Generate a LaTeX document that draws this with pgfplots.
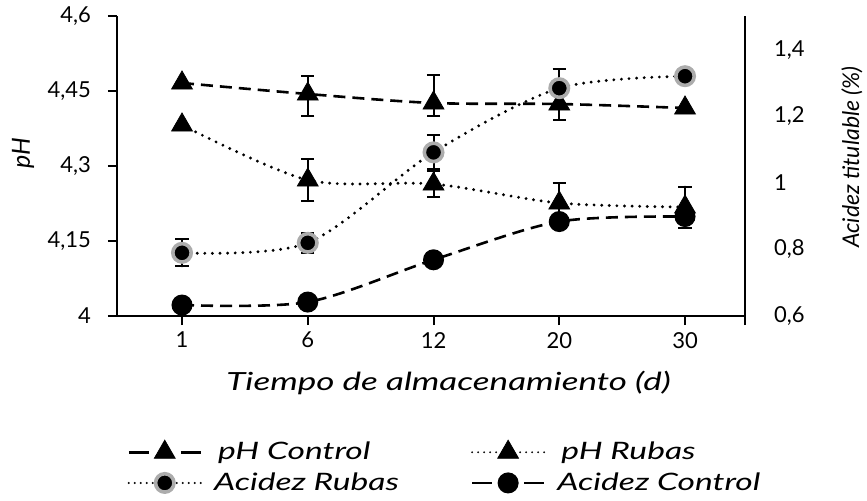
\documentclass[border=0pt]{standalone}
\usepackage{pgfplots}
\pgfplotsset{compat=1.18}
\usepackage{pgfplotstable}
\usepackage{fontspec}
\setmainfont{Lato}
\newfontfamily\wideit{Lato}[FakeStretch=1.4]

\pgfplotstableread{
x y ep em
0 4.466 0 0
1 4.444 0.036 0.044
2 4.426 0.056 0.026
3 4.424 0.032 0.032
4 4.416 0 0
}\phcontrol

\pgfplotstableread{
x y e
0 4.382 0
1 4.272 0.042
2 4.264 0.026
3 4.226 0.040
4 4.218 0.041
}\phrubas

\pgfplotstableread{
x y e
0 0.790 0.041
1 0.820 0.030
2 1.092 0.051
3 1.285 0.057
4 1.321 0
}\acrubas

\pgfplotstableread{
x y
0 0.633
1 0.642
2 0.769
3 0.884
4 0.899
}\accontrol

\pgfplotsset{
  base/.style={
    scale only axis, width=314pt, height=150pt,
    xmin=-0.517, xmax=4.477,
    axis line style={line width=1pt},
    tick style={line width=1pt, black},
    major tick length=4.5pt,
    tick align=outside,
    /pgf/number format/assume math mode=true,
    /pgf/number format/use comma,
    ticklabel style={font=\fontsize{11}{13}\selectfont},
  },
  ebar/.style={error bars/.cd, y dir=both, y explicit,
    error bar style={line width=1pt, solid, black},
    error mark options={rotate=90, mark size=3.3pt, line width=1pt, solid, black},
    /pgfplots/.cd},
  dashedline/.style={line width=1.3pt, dash pattern=on 6pt off 3.5pt},
  dottedline/.style={line width=1.6pt, line cap=round, dash pattern=on 0pt off 3.8pt},
  tri/.style={mark=triangle*, mark size=6pt, mark options={solid, fill=black, draw=black, line width=0.4pt}},
  dot/.style={mark=*, mark size=4.6pt, mark options={solid, fill=black, draw=black}},
  ringdot/.style={mark=*, mark size=4.6pt, mark options={solid, fill=black, draw=gray!65, line width=1.8pt}},
  % legend pictures: short solid bits for the dashed series, a dotted run for the others
  legdash/.style={legend image code/.code={
    \draw[##1, solid, mark=none] (0pt,0pt) -- (10pt,0pt);
    \draw[##1, solid, mark=none] (26pt,0pt) -- (36pt,0pt);
    \draw[##1, draw=none] plot[mark repeat=1] coordinates {(18pt,0pt)};}},
  legdot/.style={legend image code/.code={
    \draw[##1, mark=none, line width=1.1pt, dash pattern=on 0pt off 3pt] (0pt,0pt) -- (36pt,0pt);
    \draw[##1, draw=none] plot[mark repeat=1] coordinates {(18pt,0pt)};}},
}

\begin{document}
\begin{tikzpicture}
\useasboundingbox (-58.5pt,-92pt) rectangle (375pt,158pt);

\begin{axis}[
  base,
  axis y line*=left, axis x line*=bottom,
  ymin=4, ymax=4.6,
  ytick={4,4.15,4.3,4.45,4.6},
  xtick={0,1,2,3,4}, xticklabels={1,6,12,20,30},
  extra x ticks={4.477}, extra x tick labels={},
  xlabel={\wideit\itshape Tiempo de almacenamiento (d)},
  xlabel style={at={([yshift=-33.5pt]rel axis cs:0.528,0)}, anchor=center,
    font=\fontsize{12.5}{15}\selectfont},
  ylabel={\itshape pH},
  ylabel style={at={([xshift=-47pt]rel axis cs:0,0.543)}, anchor=center, rotate=0,
    font=\fontsize{12.5}{15}\selectfont},
  yticklabel style={xshift=-5pt},
]
\addplot[black, dashedline, tri, smooth, ebar]
  table[x=x, y=y, y error plus=ep, y error minus=em] {\phcontrol};
\addplot[black, dottedline, tri, smooth, ebar]
  table[x=x, y=y, y error=e] {\phrubas};
\end{axis}

\begin{axis}[
  base,
  axis y line*=right, axis x line=none,
  ymin=0.6, ymax=1.502,
  ytick={0.6,0.8,1,1.2,1.4},
  major tick length=0pt,
  yticklabel style={anchor=west, xshift=11pt},
  ylabel={\itshape Acidez titulable (\%)},
  ylabel style={at={([xshift=53.5pt]rel axis cs:1,0.53)}, anchor=center, rotate=0,
    font=\fontsize{11.5}{14}\selectfont},
  legend columns=2,
  legend style={at={(rel axis cs:0.016,-0.405)}, anchor=north west, draw=none,
    fill=none, inner sep=0pt, font=\fontsize{12}{13}\selectfont\wideit\itshape,
    /tikz/every even column/.append style={column sep=34pt},
    row sep=1pt},
  legend cell align=left,
]
\addlegendimage{black, dashedline, tri, legdash}
\addlegendentry{\hspace{6pt}pH Control}
\addlegendimage{black, dottedline, tri, legdot}
\addlegendentry{\hspace{6pt}pH Rubas}
\addplot[black, dottedline, ringdot, smooth, legdot, ebar]
  table[x=x, y=y, y error=e] {\acrubas};
\addlegendentry{\hspace{4pt}Acidez Rubas}
\addplot[black, dashedline, dot, smooth, legdash]
  table[x=x, y=y] {\accontrol};
\addlegendentry{\hspace{4pt}Acidez Control}
\end{axis}
\end{tikzpicture}
\end{document}
